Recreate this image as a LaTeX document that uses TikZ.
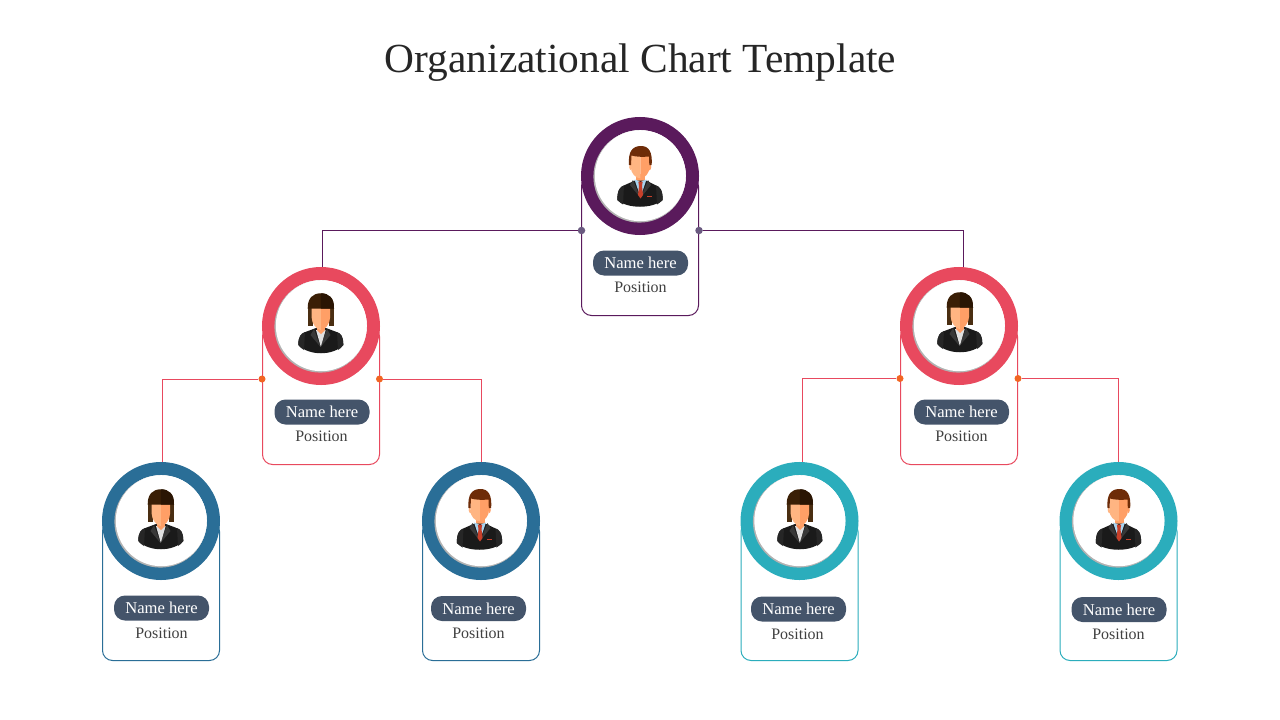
\documentclass[tikz,border=0pt]{standalone}
\usepackage{fontspec}
\setmainfont{Liberation Serif}
\definecolor{cPurple}{HTML}{5A1A5C}
\definecolor{cRed}{HTML}{E8495E}
\definecolor{cBlue}{HTML}{2A6E97}
\definecolor{cTeal}{HTML}{2BADBC}
\definecolor{cPill}{HTML}{44546A}
\definecolor{cText}{HTML}{404040}
\definecolor{cTitle}{HTML}{262626}
\definecolor{cOrange}{HTML}{F26522}
\definecolor{cSlate}{HTML}{6A5A80}
\definecolor{cSuit}{HTML}{1A1A1A}
\definecolor{cSuitB}{HTML}{262626}
\definecolor{cLapel}{HTML}{383838}
\definecolor{cSkinL}{HTML}{FFB582}
\definecolor{cSkinD}{HTML}{FF9F66}
\definecolor{cHairM}{HTML}{6E2C08}
\definecolor{cHairW}{HTML}{3A1F06}
\definecolor{cHairWD}{HTML}{2A1503}
\definecolor{cHairS}{HTML}{4A2E12}
\definecolor{cShirt}{HTML}{A9D3EE}
\definecolor{cTie}{HTML}{C8402A}
\tikzset{
  x=1pt,y=-1pt,
  ring/.style={circle,line width=13pt,minimum size=105pt,inner sep=0pt,fill=white},
  card/.style={rectangle,rounded corners=10pt,line width=1pt,minimum width=117pt,anchor=north,fill=white,inner sep=0pt},
  pill/.style={rectangle,rounded corners=11pt,fill=cPill,text=white,minimum width=95pt,minimum height=25pt,inner sep=0pt,font=\fontsize{16.6}{18}\selectfont},
  posn/.style={text=cText,inner sep=0pt,font=\fontsize{16}{18}\selectfont},
  joint/.style={circle,minimum size=7pt,inner sep=0pt},
  link/.style={line width=1pt},
  man/.pic={
    \fill[cSkinD] (-4,-2) rectangle (5,9);
    \fill[cSuit] (-22.7,24) .. controls (-22.7,14) and (-20,10.5) .. (-14,8.5) -- (-5,4.5) -- (6,4.5) -- (14,8.5) .. controls (20,10.5) and (22.7,14) .. (22.7,24) .. controls (12,33) and (-12,33) .. cycle;
    \fill[cSuitB] (-22.7,24) .. controls (-22.7,14) and (-20,10.5) .. (-16,9.5) -- (-17,28.5) .. controls (-19,27.5) and (-21,25.5) .. cycle;
    \fill[cSuitB] (22.7,24) .. controls (22.7,14) and (20,10.5) .. (16,9.5) -- (17,28.5) .. controls (19,27.5) and (21,25.5) .. cycle;
    \fill[cLapel] (-7,4) -- (0.5,22) -- (-10,9) -- cycle;
    \fill[cLapel] (8,4) -- (0.5,22) -- (11,9) -- cycle;
    \fill[cShirt] (-5.5,3.5) -- (-1,5) -- (0.5,7) -- (2,5) -- (6.5,3.5) -- (0.5,21) -- cycle;
    \fill[cTie] (-1.7,5.5) -- (2.7,5.5) -- (2,10) -- (-1,10) -- cycle;
    \fill[cTie] (-1,10) -- (2,10) -- (3,19) -- (0.5,22.5) -- (-2,19) -- cycle;
    \fill[cTie] (7.3,19.8) rectangle (12.3,20.8);
    \fill[cSkinD] (0.3,-21) -- (9.3,-21) -- (9.3,-8) .. controls (9.3,-3) and (5,2.3) .. (0.3,2.3) -- cycle;
    \fill[cSkinL] (0.3,-21) -- (-9,-21) -- (-9,-8) .. controls (-9,-3) and (-4.5,2.3) .. (0.3,2.3) -- cycle;
    \fill[cSkinL] (-9,-12) .. controls (-11.5,-12) and (-11.5,-6) .. (-8.5,-5.5) -- cycle;
    \fill[cSkinD] (9.3,-12) .. controls (12,-12) and (12,-6) .. (9,-5.5) -- cycle;
    \fill[cHairM] (-11,-11) .. controls (-12,-24) and (-8,-30) .. (1,-30) .. controls (9,-30) and (12.5,-24) .. (11.7,-11) -- (9.3,-11) -- (9,-19.5) .. controls (4,-19) and (-4,-19) .. (-8.5,-20.5) -- (-9,-11) -- cycle;
  },
  woman/.pic={
    \fill[cHairS] (-13.3,0) -- (-8,0) -- (-8,-18) -- (-13.3,-18) -- cycle;
    \fill[cHairS] (8,0) -- (13,0) -- (13,-18) -- (8,-18) -- cycle;
    \fill[cSuit] (-22.7,19) .. controls (-22.7,10) and (-20,7.5) .. (-13,5) -- (-5,2) -- (5,2) -- (13,5) .. controls (20,7.5) and (22.3,10) .. (22.3,19) .. controls (12,30) and (-12,30) .. cycle;
    \fill[cSuitB] (-22.7,19) .. controls (-22.7,10) and (-20,7.5) .. (-16,6) -- (-17,24) .. controls (-19,23) and (-21,21) .. cycle;
    \fill[cSuitB] (22.3,19) .. controls (22.3,10) and (20,7.5) .. (16,6) -- (17,24) .. controls (19,23) and (21,21) .. cycle;
    \fill[cLapel] (-7,3) -- (-0.5,21) -- (-10.5,9) -- cycle;
    \fill[cLapel] (6,3) -- (-0.5,21) -- (9.5,9) -- cycle;
    \fill[white!88!black] (-5,4) -- (4.7,4) -- (-0.2,20.7) -- cycle;
    \fill[cSkinD] (-4,-2) rectangle (4,4);
    \fill[cSkinD] (-4,4) -- (4,4) -- (0,8) -- cycle;
    \fill[cSkinD] (-0.2,-19) -- (9,-19) -- (9,-8) .. controls (9,-3) and (4.5,4) .. (-0.2,4) -- cycle;
    \fill[cSkinL] (-0.2,-19) -- (-9.3,-19) -- (-9.3,-8) .. controls (-9.3,-3) and (-4.5,4) .. (-0.2,4) -- cycle;
    \fill[cHairW] (-13.3,-17.5) .. controls (-13.5,-28) and (-8,-32.7) .. (-0.2,-32.7) .. controls (8,-32.7) and (13.3,-28) .. (13,-17.5) -- cycle;
    \fill[cHairWD] (-0.2,-32.7) .. controls (8,-32.7) and (13.3,-28) .. (13,-17.5) -- (9,-17.5) -- (-0.2,-17.5) -- cycle;
  }
}
\newcommand{\orgunit}[9]{% name, cx, cy, card height, colour, pill x, pill y, pos x, pos y
  \node[card,draw=#5,minimum height=#4pt] (#1card) at (#2,#3) {};
  \node[ring,draw=#5] (#1ring) at (#2,#3) {};
  \fill[black!30] (#2-0.6,#3+0.6) circle[radius=46];
  \fill[white] (#2+0.3,#3-0.3) circle[radius=45.5];
  \node[pill] (#1pill) at (#6,#7) {Name here};
  \node[posn] (#1pos) at (#8,#9) {Position};
}
\begin{document}
\begin{tikzpicture}
\useasboundingbox (0,0) rectangle (1280,720);
\fill[white] (0,0) rectangle (1280,720);
\node[text=cTitle,inner sep=0pt,font=\fontsize{41.4}{46}\selectfont] (title) at (640.5,63) {Organizational Chart Template};

\orgunit{ceo}{640}{176}{139}{cPurple}{640.5}{263}{640.5}{287.5}
\orgunit{vl}{321}{326}{138}{cRed}{322}{412}{321.5}{436.5}
\orgunit{vr}{959}{326}{138}{cRed}{961.5}{412}{961.5}{436.5}
\orgunit{a}{161}{521}{139}{cBlue}{161.5}{608}{161.5}{633.5}
\orgunit{b}{481}{521}{139}{cBlue}{478.5}{608.5}{478.5}{633.5}
\orgunit{c}{799.5}{521}{139}{cTeal}{798.5}{609}{797.5}{634.5}
\orgunit{d}{1118.5}{521}{139}{cTeal}{1119}{609.5}{1118.5}{634.5}

\pic at (640,176) {man};
\pic at (321,326) {woman};
\pic at (960,325) {woman};
\pic at (161,522) {woman};
\pic at (479.5,519) {man};
\pic at (800,522) {woman};
\pic at (1118.5,519) {man};

\node[joint,minimum size=7.5pt,fill=cSlate] (j1) at (581.5,230.5) {};
\node[joint,minimum size=7.5pt,fill=cSlate] (j2) at (699,230.5) {};
\node[joint,fill=cOrange] (j3) at (262,379) {};
\node[joint,fill=cOrange] (j4) at (379.5,379) {};
\node[joint,fill=cOrange] (j5) at (900,378.5) {};
\node[joint,fill=cOrange] (j6) at (1018,378.5) {};

\draw[link,cPurple] (j1) -| ([xshift=1pt]vlring.north);
\draw[link,cPurple] (j2) -| ([xshift=4pt]vrring.north);
\draw[link,cRed] (j3) -| ([xshift=1pt]aring.north);
\draw[link,cRed] (j4) -| (bring.north);
\draw[link,cRed] (j5) -| ([xshift=2.5pt]cring.north);
\draw[link,cRed] (j6) -| (dring.north);
\end{tikzpicture}
\end{document}
